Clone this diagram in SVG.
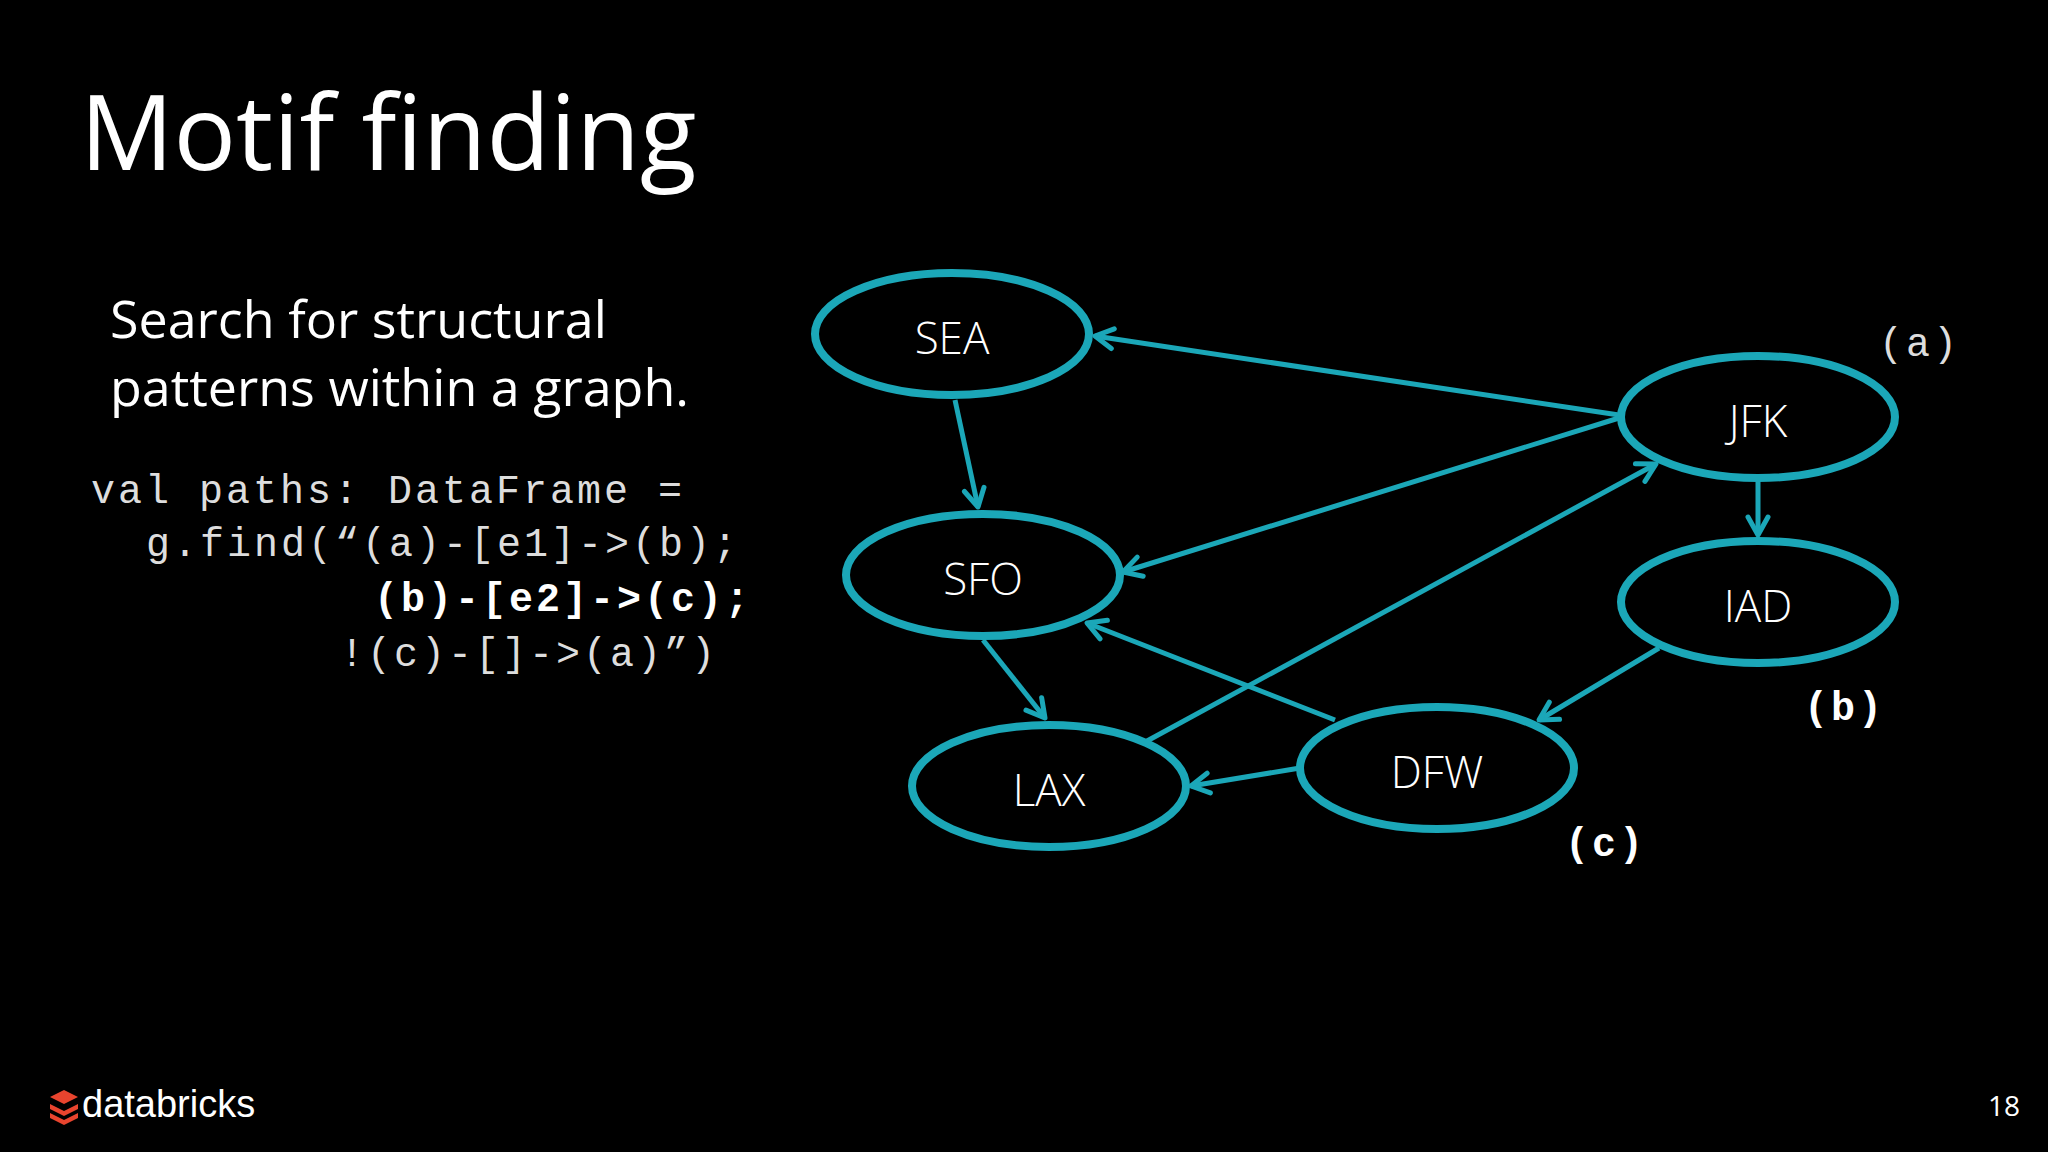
<svg xmlns="http://www.w3.org/2000/svg" width="2048" height="1152" viewBox="0 0 2048 1152">
<defs>
<style>
.n{fill:none;stroke:#1ba7b8;stroke-width:8}
.nl{font-family:"Open Sans","Noto Sans",sans-serif;font-size:44px;fill:#fff;text-anchor:middle;font-weight:300}
.e{stroke:#1ba7b8;stroke-width:5;fill:none;marker-end:url(#ah)}
.code{font-family:"Liberation Mono",monospace;font-size:40px;fill:#ddd;letter-spacing:3px}
.b{font-weight:bold;fill:#fff}
</style>
<marker id="ah" markerUnits="userSpaceOnUse" markerWidth="26" markerHeight="26" refX="22" refY="12" orient="auto" viewBox="0 0 26 24">
<path d="M4,2 L22,12 L4,22" fill="none" stroke="#1ba7b8" stroke-width="5" stroke-linecap="round" stroke-linejoin="round"/>
</marker>
</defs>
<rect width="2048" height="1152" fill="#000"/>
<text x="80" y="170" font-family="Open Sans,sans-serif" font-size="104" fill="#fff">Motif finding</text>
<text font-family="Open Sans,sans-serif" font-size="52" fill="#fff"><tspan x="110" y="338">Search for structural</tspan><tspan x="110" y="406">patterns within a graph.</tspan></text>
<text class="code" x="91" y="503">val paths: DataFrame =</text>
<text class="code" x="146" y="556">g.find(“(a)-[e1]-&gt;(b);</text>
<text class="code b" x="374" y="611">(b)-[e2]-&gt;(c);</text>
<text class="code" x="340" y="666">!(c)-[]-&gt;(a)”)</text>
<g id="connectors">
<line class="e" x1="1619" y1="415" x2="1095" y2="336"/>
<line class="e" x1="955" y1="400" x2="978" y2="507"/>
<line class="e" x1="1619" y1="418" x2="1123" y2="572"/>
<line class="e" x1="1147" y1="741" x2="1656" y2="464"/>
<line class="e" x1="1758" y1="479" x2="1758" y2="535"/>
<line class="e" x1="1659" y1="648" x2="1539" y2="720"/>
<line class="e" x1="1335" y1="720" x2="1087" y2="623"/>
<line class="e" x1="983" y1="640" x2="1045" y2="718"/>
<line class="e" x1="1300" y1="768" x2="1191" y2="786"/>
</g>
<g id="SEA"><ellipse class="n" cx="952" cy="334" rx="137" ry="61"/><text class="nl" x="952" y="354">SEA</text></g>
<g id="JFK"><ellipse class="n" cx="1758" cy="417" rx="137" ry="61"/><text class="nl" x="1758" y="437">JFK</text></g>
<g id="SFO"><ellipse class="n" cx="983" cy="575" rx="137" ry="61"/><text class="nl" x="983" y="595">SFO</text></g>
<g id="IAD"><ellipse class="n" cx="1758" cy="602" rx="137" ry="61"/><text class="nl" x="1758" y="622">IAD</text></g>
<g id="LAX"><ellipse class="n" cx="1049" cy="786" rx="137" ry="61"/><text class="nl" x="1049" y="806">LAX</text></g>
<g id="DFW"><ellipse class="n" cx="1437" cy="768" rx="137" ry="61"/><text class="nl" x="1437" y="788">DFW</text></g>
<text class="code" x="1879" y="356" font-size="44">(a)</text>
<text class="code b" x="1804" y="720" font-size="44">(b)</text>
<text class="code b" x="1565" y="856" font-size="44">(c)</text>
<g id="logo">
<path d="M50,1097 L64,1090 L78,1097 L64,1104 Z" fill="#e8442e"/>
<path d="M50,1104 L64,1111 L78,1104 L78,1109 L64,1116 L50,1109 Z" fill="#e8442e"/>
<path d="M50,1113 L64,1120 L78,1113 L78,1118 L64,1125 L50,1118 Z" fill="#e8442e"/>
</g>
<text x="82" y="1117" font-family="Liberation Sans,sans-serif" font-size="38" fill="#fff">databricks</text>
<text x="2020" y="1116" text-anchor="end" font-family="Open Sans,sans-serif" font-size="28" fill="#fff">18</text>
</svg>
